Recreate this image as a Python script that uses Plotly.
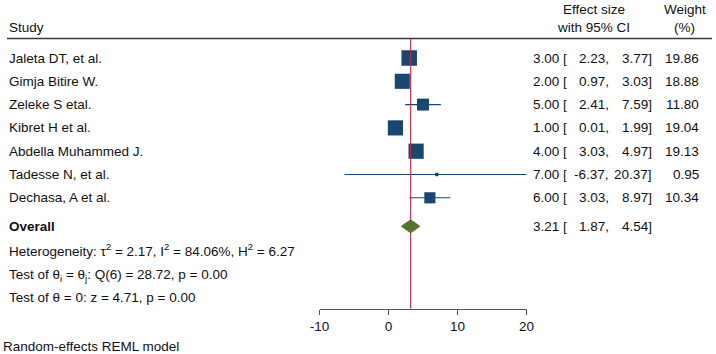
import plotly.graph_objects as go

# ---------------- data ----------------
studies = ["Jaleta DT, et al.", "Gimja Bitire W.", "Zeleke S etal.", "Kibret H et al.",
           "Abdella Muhammed J.", "Tadesse N, et al.", "Dechasa, A et al."]
effect = [3.00, 2.00, 5.00, 1.00, 4.00, 7.00, 6.00]
ci_low = [2.23, 0.97, 2.41, 0.01, 3.03, -6.37, 3.03]
ci_high = [3.77, 3.03, 7.59, 1.99, 4.97, 20.37, 8.97]
weights = [19.86, 18.88, 11.80, 19.04, 19.13, 0.95, 10.34]
overall_es = 3.21
overall_low = 1.87
overall_high = 4.54
x_ticks = [-10, 0, 10, 20]
het_text = "Heterogeneity: τ<sup>2</sup> = 2.17, I<sup>2</sup> = 84.06%, H<sup>2</sup> = 6.27"
q_text = "Test of θ<sub>i</sub> = θ<sub>j</sub>: Q(6) = 28.72, p = 0.00"
z_text = "Test of θ = 0: z = 4.71, p = 0.00"
model_text = "Random-effects REML model"

# ---------------- layout constants ----------------
W, H = 716, 354
FONT = "Liberation Sans, Arial, sans-serif"
FS = 13.5
TXT = "#111111"
NAVY = "#1a476f"
GREEN = "#55752f"
RED = "#c3274f"

row0_px, row_step = 58.0, 23.3
axis_px = 308.7
header_px = 38.5
x_left_px, x_right_px = 319.5, 526.5


def ypos(px):
    return (px - row0_px) / row_step


def xp(px):
    return px / W


def yp(px):
    return 1 - px / H


n = len(studies)
rows = list(range(n))
overall_y = ypos(226.3)

fig = go.Figure()

# CI lines
cx, cy = [], []
for i in rows:
    cx += [ci_low[i], ci_high[i], None]
    cy += [i, i, None]
fig.add_trace(go.Scatter(x=cx, y=cy, mode="lines", line=dict(color=NAVY, width=1.1),
                         hoverinfo="skip", showlegend=False))

# weight squares (area proportional to weight)
sizes = [15.5 * (w / max(weights)) ** 0.5 for w in weights]
fig.add_trace(go.Scatter(x=effect, y=rows, mode="markers",
                         marker=dict(symbol="square", size=sizes, color=NAVY, opacity=1,
                                     line=dict(width=0)),
                         showlegend=False, cliponaxis=False))

# overall line
fig.add_trace(go.Scatter(x=[overall_es, overall_es], y=[ypos(header_px + 0.5), ypos(axis_px)],
                         mode="lines", line=dict(color=RED, width=1.1), showlegend=False))

# diamond
dh = 6.5 / row_step
fig.add_trace(go.Scatter(x=[overall_low, overall_es, overall_high, overall_es, overall_low],
                         y=[overall_y, overall_y - dh, overall_y, overall_y + dh, overall_y],
                         mode="lines", fill="toself", fillcolor=GREEN,
                         line=dict(color=GREEN, width=1), showlegend=False))

ann = []


def add(text, x_px, y, xanchor="left", yref="y", bold=False):
    ann.append(dict(text=f"<b>{text}</b>" if bold else text, x=xp(x_px), xref="paper",
                    y=y, yref=yref, xanchor=xanchor, yanchor="middle", showarrow=False,
                    font=dict(family=FONT, size=FS, color=TXT)))


# header
add("Study", 7, yp(27), yref="paper")
add("Effect size", 593.5, yp(9), "center", yref="paper")
add("with 95% CI", 593.5, yp(27), "center", yref="paper")
add("Weight", 684.5, yp(9), "center", yref="paper")
add("(%)", 684.5, yp(27), "center", yref="paper")


def stat_row(y, es, lo, hi):
    add(f"{es:.2f} [", 569, y, "right")
    add(f"{lo:.2f},", 610.5, y, "right")
    add(f"{hi:.2f}]", 654, y, "right")


for i in rows:
    add(studies[i], 7, i)
    stat_row(i, effect[i], ci_low[i], ci_high[i])
    add(f"{weights[i]:.2f}", 701, i, "right")

add("Overall", 7, overall_y, bold=True)
stat_row(overall_y, overall_es, overall_low, overall_high)

add(het_text, 7, ypos(250.0))
add(q_text, 7, ypos(275.5))
add(z_text, 7, ypos(297))
add(model_text, 0.5, yp(346.5), yref="paper")

fig.update_layout(
    width=W, height=H,
    margin=dict(l=0, r=0, t=0, b=0, autoexpand=False),
    paper_bgcolor="white", plot_bgcolor="white",
    annotations=ann,
    shapes=[dict(type="line", xref="paper", yref="paper", x0=xp(7), x1=xp(712),
                 y0=yp(header_px), y1=yp(header_px), line=dict(color="#3a3a3a", width=1.3))],
    xaxis=dict(domain=[xp(x_left_px), xp(x_right_px)], range=[x_ticks[0], x_ticks[-1]],
               tickvals=x_ticks, ticktext=[str(t) for t in x_ticks],
               showgrid=False, zeroline=False, showline=True, linecolor="#555555", linewidth=1.2,
               ticks="outside", ticklen=5, tickwidth=1.2, tickcolor="#555555",
               tickfont=dict(family=FONT, size=FS, color=TXT), fixedrange=True,
               automargin=False),
    yaxis=dict(domain=[1 - axis_px / H, 1], range=[ypos(axis_px), ypos(0)],
               visible=False, showgrid=False, zeroline=False, fixedrange=True,
               automargin=False),
    showlegend=False,
)

fig.write_html("out.html", config={"displayModeBar": False},
               post_script="document.body.style.margin='0';document.body.style.overflow='hidden';")
